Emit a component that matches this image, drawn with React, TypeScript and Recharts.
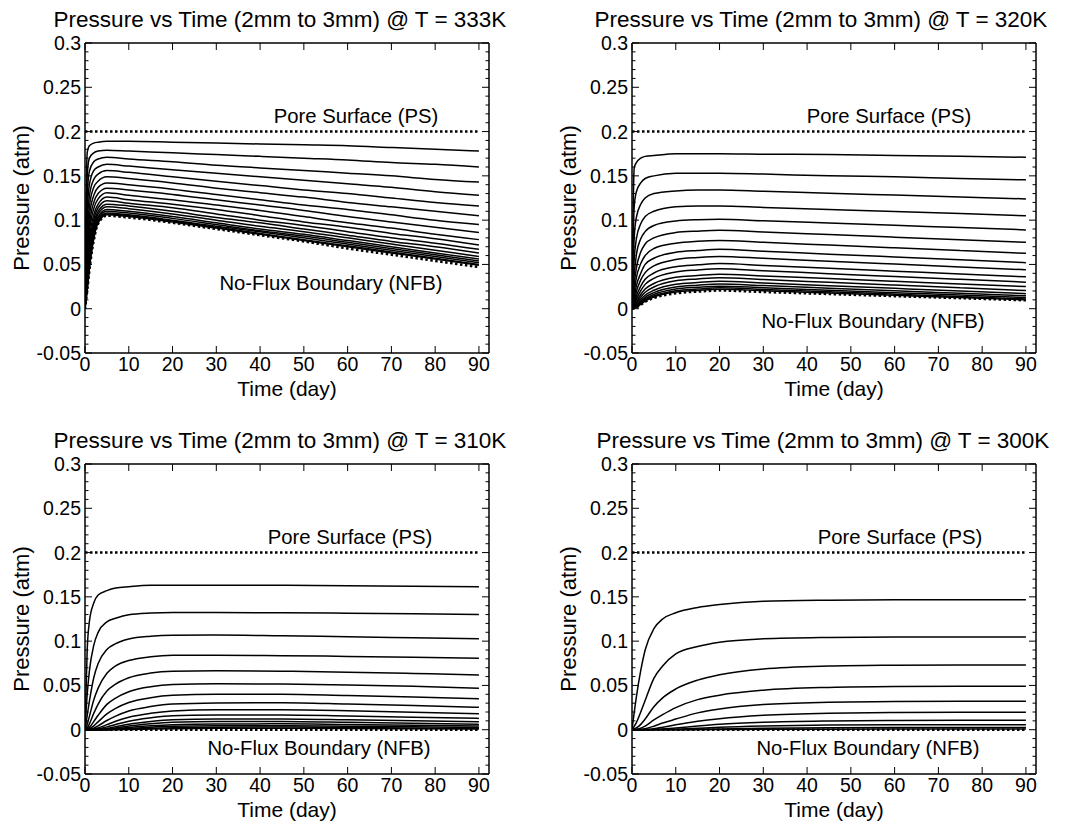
import React from 'react';
import { LineChart, Line, XAxis, YAxis } from 'recharts';

// sample days per panel
const t333 = [0, 0.5, 1, 2, 3, 5, 10, 20, 30, 40, 50, 60, 70, 80, 90];
const t320 = [0, 0.5, 1, 2, 3, 5, 10, 15, 20, 30, 45, 60, 75, 90];
const t310 = [0, 0.5, 1, 2, 3, 5, 7, 10, 15, 20, 30, 45, 60, 75, 90];
const t300 = [0, 1, 2, 3, 5, 7, 10, 15, 20, 30, 45, 60, 75, 90];

// pressure (atm) at each depth, top curve is nearest the pore surface
const p333 = [
  [0, 0.176, 0.184, 0.187, 0.188, 0.189, 0.189, 0.188, 0.187, 0.186, 0.185, 0.184, 0.182, 0.180, 0.178],
  [0, 0.150, 0.170, 0.176, 0.178, 0.179, 0.178, 0.176, 0.174, 0.172, 0.170, 0.168, 0.165, 0.163, 0.160],
  [0, 0.128, 0.155, 0.166, 0.169, 0.171, 0.169, 0.166, 0.162, 0.159, 0.156, 0.153, 0.150, 0.146, 0.143],
  [0, 0.110, 0.140, 0.156, 0.160, 0.163, 0.161, 0.157, 0.153, 0.149, 0.145, 0.141, 0.137, 0.132, 0.128],
  [0, 0.095, 0.127, 0.146, 0.152, 0.156, 0.154, 0.149, 0.144, 0.139, 0.134, 0.130, 0.125, 0.120, 0.116],
  [0, 0.082, 0.115, 0.137, 0.144, 0.149, 0.147, 0.142, 0.136, 0.131, 0.126, 0.120, 0.115, 0.110, 0.105],
  [0, 0.071, 0.104, 0.128, 0.137, 0.142, 0.140, 0.135, 0.129, 0.123, 0.117, 0.112, 0.106, 0.100, 0.095],
  [0, 0.062, 0.094, 0.120, 0.130, 0.136, 0.134, 0.129, 0.123, 0.117, 0.111, 0.104, 0.098, 0.092, 0.086],
  [0, 0.054, 0.086, 0.113, 0.124, 0.131, 0.128, 0.123, 0.117, 0.111, 0.104, 0.097, 0.091, 0.084, 0.078],
  [0, 0.047, 0.078, 0.106, 0.118, 0.126, 0.123, 0.118, 0.112, 0.105, 0.098, 0.092, 0.085, 0.079, 0.072],
  [0, 0.041, 0.072, 0.101, 0.114, 0.122, 0.119, 0.114, 0.107, 0.100, 0.094, 0.087, 0.080, 0.074, 0.067],
  [0, 0.036, 0.066, 0.096, 0.110, 0.118, 0.116, 0.110, 0.103, 0.097, 0.090, 0.083, 0.076, 0.070, 0.063],
  [0, 0.032, 0.061, 0.092, 0.107, 0.115, 0.113, 0.107, 0.100, 0.093, 0.087, 0.080, 0.073, 0.066, 0.059],
  [0, 0.029, 0.057, 0.089, 0.104, 0.112, 0.110, 0.104, 0.097, 0.090, 0.084, 0.077, 0.070, 0.063, 0.056],
  [0, 0.026, 0.053, 0.086, 0.102, 0.110, 0.108, 0.102, 0.095, 0.088, 0.082, 0.075, 0.068, 0.061, 0.054],
  [0, 0.024, 0.050, 0.083, 0.100, 0.108, 0.106, 0.100, 0.093, 0.087, 0.080, 0.073, 0.066, 0.059, 0.052],
  [0, 0.022, 0.047, 0.081, 0.098, 0.107, 0.105, 0.099, 0.092, 0.085, 0.078, 0.071, 0.064, 0.057, 0.050],
  [0, 0.021, 0.045, 0.079, 0.097, 0.106, 0.104, 0.098, 0.091, 0.084, 0.077, 0.070, 0.063, 0.056, 0.049],
];
const nfb333 = [0, 0.020, 0.043, 0.077, 0.096, 0.105, 0.103, 0.097, 0.090, 0.083, 0.076, 0.068, 0.061, 0.054, 0.047];

const p320 = [
  [0, 0.159, 0.165, 0.170, 0.172, 0.173, 0.175, 0.175, 0.175, 0.1745, 0.174, 0.173, 0.172, 0.171],
  [0, 0.115, 0.132, 0.142, 0.147, 0.150, 0.153, 0.153, 0.153, 0.152, 0.150, 0.149, 0.147, 0.1455],
  [0, 0.080, 0.103, 0.118, 0.125, 0.130, 0.133, 0.134, 0.134, 0.1326, 0.1304, 0.1283, 0.1261, 0.124],
  [0, 0.056, 0.079, 0.096, 0.104, 0.110, 0.115, 0.116, 0.116, 0.1144, 0.1121, 0.1097, 0.1074, 0.105],
  [0, 0.038, 0.061, 0.079, 0.087, 0.094, 0.099, 0.1005, 0.101, 0.0993, 0.0967, 0.0941, 0.0916, 0.089],
  [0, 0.027, 0.046, 0.064, 0.073, 0.080, 0.086, 0.0876, 0.0885, 0.0866, 0.0837, 0.0808, 0.0779, 0.075],
  [0, 0.0185, 0.035, 0.051, 0.060, 0.068, 0.074, 0.0762, 0.077, 0.0749, 0.0718, 0.0687, 0.0656, 0.0625],
  [0, 0.0127, 0.026, 0.040, 0.050, 0.057, 0.0637, 0.0657, 0.067, 0.0649, 0.0616, 0.0584, 0.0552, 0.052],
  [0, 0.0089, 0.0195, 0.0325, 0.0407, 0.0484, 0.0555, 0.0578, 0.059, 0.0569, 0.0536, 0.0504, 0.0472, 0.044],
  [0, 0.0061, 0.0143, 0.0255, 0.0332, 0.0403, 0.0474, 0.0495, 0.051, 0.0489, 0.0456, 0.0424, 0.0392, 0.036],
  [0, 0.0041, 0.0108, 0.0203, 0.0275, 0.0342, 0.0414, 0.0437, 0.045, 0.0429, 0.0396, 0.0364, 0.0332, 0.030],
  [0, 0.0027, 0.0078, 0.016, 0.0222, 0.0285, 0.0355, 0.0374, 0.039, 0.037, 0.034, 0.031, 0.028, 0.025],
  [0, 0.0021, 0.006, 0.013, 0.0186, 0.0245, 0.0315, 0.0336, 0.035, 0.0329, 0.0298, 0.0267, 0.0236, 0.0205],
  [0, 0.0016, 0.0043, 0.0102, 0.0152, 0.0208, 0.0276, 0.0295, 0.031, 0.029, 0.026, 0.023, 0.020, 0.017],
  [0, 0.0011, 0.0034, 0.0084, 0.0129, 0.0182, 0.0246, 0.0266, 0.028, 0.0261, 0.0232, 0.0203, 0.0174, 0.0145],
  [0, 0.0008, 0.0026, 0.0069, 0.011, 0.0161, 0.0222, 0.0242, 0.0255, 0.0237, 0.0209, 0.0181, 0.0154, 0.0126],
  [0, 0.0007, 0.0021, 0.0059, 0.0097, 0.0144, 0.0203, 0.0222, 0.0236, 0.0218, 0.0191, 0.0164, 0.0137, 0.011],
  [0, 0.0004, 0.0018, 0.0051, 0.0086, 0.0132, 0.0189, 0.0207, 0.022, 0.0203, 0.0177, 0.0151, 0.0126, 0.010],
];
const nfb320 = [0, 0.0004, 0.0014, 0.0045, 0.0078, 0.0121, 0.0174, 0.0193, 0.0205, 0.0189, 0.0166, 0.0142, 0.0119, 0.0095];

const p310 = [
  [0, 0.090, 0.122, 0.143, 0.152, 0.157, 0.160, 0.1615, 0.163, 0.163, 0.1632, 0.1631, 0.1625, 0.162, 0.1614],
  [0, 0.0397, 0.0662, 0.0953, 0.1099, 0.1218, 0.1258, 0.1298, 0.1317, 0.1324, 0.1324, 0.132, 0.1315, 0.1308, 0.130],
  [0, 0.016, 0.032, 0.0587, 0.0747, 0.0907, 0.0971, 0.1024, 0.1056, 0.1067, 0.1068, 0.106, 0.105, 0.1038, 0.1026],
  [0, 0.0059, 0.0151, 0.0336, 0.047, 0.0638, 0.0722, 0.0781, 0.0823, 0.084, 0.0842, 0.0836, 0.0828, 0.0818, 0.0807],
  [0, 0.002, 0.0066, 0.0185, 0.029, 0.0436, 0.0515, 0.0587, 0.064, 0.066, 0.0665, 0.066, 0.065, 0.0635, 0.0618],
  [0, 0.0008, 0.0026, 0.0092, 0.0163, 0.0286, 0.0357, 0.0428, 0.0485, 0.051, 0.0518, 0.0515, 0.0505, 0.049, 0.0468],
  [0, 0.0003, 0.001, 0.0043, 0.0089, 0.0178, 0.0241, 0.0307, 0.0361, 0.0388, 0.040, 0.040, 0.0385, 0.037, 0.0351],
  [0, 0.0001, 0.0003, 0.0017, 0.0044, 0.0104, 0.0154, 0.0212, 0.0261, 0.029, 0.0302, 0.0305, 0.029, 0.0272, 0.0253],
  [0, 0, 0.0001, 0.0006, 0.0019, 0.0057, 0.0095, 0.0141, 0.0185, 0.021, 0.0225, 0.0225, 0.0215, 0.0198, 0.0181],
  [0, 0, 0, 0.0002, 0.0008, 0.0032, 0.0058, 0.0096, 0.0134, 0.0158, 0.0165, 0.0167, 0.0155, 0.0142, 0.0128],
  [0, 0, 0, 0.0001, 0.0003, 0.0016, 0.0034, 0.0062, 0.0093, 0.0113, 0.0122, 0.0122, 0.0113, 0.0102, 0.009],
  [0, 0, 0, 0, 0.0001, 0.0007, 0.0019, 0.0041, 0.0066, 0.0083, 0.0092, 0.0092, 0.0083, 0.0072, 0.006],
  [0, 0, 0, 0, 0, 0.0003, 0.001, 0.0025, 0.0044, 0.0057, 0.0065, 0.0066, 0.0058, 0.005, 0.0041],
  [0, 0, 0, 0, 0, 0.0001, 0.0005, 0.0014, 0.0028, 0.0038, 0.0045, 0.0046, 0.004, 0.0033, 0.0026],
  [0, 0, 0, 0, 0, 0, 0.0002, 0.0007, 0.0016, 0.0023, 0.0029, 0.003, 0.0025, 0.002, 0.0015],
  [0, 0, 0, 0, 0, 0, 0.0001, 0.0003, 0.0007, 0.0011, 0.0016, 0.0017, 0.0014, 0.0011, 0.0008],
];
const nfb310 = [0, 0, 0, 0, 0, 0, 0, 0, 0, 0, 0, 0, 0, 0, 0];

const p300 = [
  [0, 0.037, 0.067, 0.090, 0.114, 0.125, 0.132, 0.138, 0.1414, 0.145, 0.1462, 0.1466, 0.1467, 0.1467],
  [0, 0.008, 0.020, 0.033, 0.058, 0.072, 0.0856, 0.094, 0.0988, 0.1026, 0.1042, 0.1047, 0.1048, 0.1048],
  [0, 0.002, 0.006, 0.012, 0.026, 0.036, 0.046, 0.056, 0.062, 0.0685, 0.0718, 0.0728, 0.0732, 0.0732],
  [0, 0.0005, 0.0016, 0.004, 0.011, 0.017, 0.025, 0.034, 0.039, 0.0446, 0.0478, 0.0488, 0.049, 0.049],
  [0, 0, 0.0003, 0.0011, 0.004, 0.0075, 0.012, 0.019, 0.0235, 0.0285, 0.031, 0.0318, 0.032, 0.032],
  [0, 0, 0, 0.0002, 0.0012, 0.0028, 0.0055, 0.0095, 0.0125, 0.0163, 0.0187, 0.0194, 0.0196, 0.0196],
  [0, 0, 0, 0, 0.0003, 0.0009, 0.002, 0.0042, 0.0061, 0.0084, 0.0099, 0.0104, 0.0106, 0.0106],
  [0, 0, 0, 0, 0, 0.0002, 0.0006, 0.0016, 0.0027, 0.0041, 0.0052, 0.0056, 0.0057, 0.0057],
  [0, 0, 0, 0, 0, 0, 0.0001, 0.0005, 0.0009, 0.0016, 0.0022, 0.0025, 0.0026, 0.0026],
  [0, 0, 0, 0, 0, 0, 0, 0.0001, 0.0002, 0.0004, 0.0006, 0.0007, 0.0008, 0.0008],
];
const nfb300 = [0, 0, 0, 0, 0, 0, 0, 0, 0, 0, 0, 0, 0, 0];

// pore surface boundary
const psDays = [0, 90];
const psValues = [0.2, 0.2];

const xTicks = [0, 10, 20, 30, 40, 50, 60, 70, 80, 90];
const yTicks = [-0.05, -0.04, -0.03, -0.02, -0.01, 0, 0.01, 0.02, 0.03, 0.04, 0.05, 0.06, 0.07, 0.08, 0.09, 0.1,
  0.11, 0.12, 0.13, 0.14, 0.15, 0.16, 0.17, 0.18, 0.19, 0.2, 0.21, 0.22, 0.23, 0.24, 0.25, 0.26, 0.27, 0.28, 0.29, 0.3];
const yMajor = [-0.05, 0, 0.05, 0.1, 0.15, 0.2, 0.25, 0.3];
const yMajorLabels = ['-0.05', '0', '0.05', '0.1', '0.15', '0.2', '0.25', '0.3'];

const FONT = '"Liberation Sans", Arial, Helvetica, sans-serif';
const PW = 404;
const PH = 310;
const TICK_FS = 19.5;

const majorIndex = (v: number) => yMajor.findIndex((m) => Math.abs(m - v) < 1e-6);

const BottomTick = ({ x, y, payload }: any) => (
  <g>
    <line x1={x} x2={x} y1={y} y2={y - 7} stroke="#000" strokeWidth={1} />
    <text x={x} y={y + 18} textAnchor="middle" fontSize={TICK_FS} fontFamily={FONT} fill="#000">
      {payload.value}
    </text>
  </g>
);

const TopTick = ({ x, y }: any) => <line x1={x} x2={x} y1={y} y2={y + 7} stroke="#000" strokeWidth={1} />;

const LeftTick = ({ x, y, payload }: any) => {
  const mi = majorIndex(payload.value);
  return (
    <g>
      <line x1={x} x2={x + (mi >= 0 ? 7 : 3.5)} y1={y} y2={y} stroke="#000" strokeWidth={1} />
      {mi >= 0 && (
        <text x={x - 4} y={y + 7} textAnchor="end" fontSize={TICK_FS} fontFamily={FONT} fill="#000">
          {yMajorLabels[mi]}
        </text>
      )}
    </g>
  );
};

const RightTick = ({ x, y, payload }: any) => {
  const mi = majorIndex(payload.value);
  return <line x1={x} x2={x - (mi >= 0 ? 7 : 3.5)} y1={y} y2={y} stroke="#000" strokeWidth={1} />;
};

const axisLine = { stroke: '#000', strokeWidth: 1.5 };

interface PanelProps {
  left: number;
  top: number;
  days: number[];
  curves: number[][];
  nfb: number[];
}

function Panel({ left, top, days, curves, nfb }: PanelProps) {
  const toData = (vals: number[], ts: number[]) => vals.map((v, i) => ({ t: ts[i], p: v }));
  return (
    <div style={{ position: 'absolute', left: left - 85, top: top - 43 }}>
      <LineChart width={504} height={413} margin={{ top: 38, right: 10, bottom: 10, left: 5 }}>
        <XAxis xAxisId="b" dataKey="t" type="number" domain={[0, 92.3]} ticks={xTicks} interval={0}
          orientation="bottom" height={50} tickSize={0} tickMargin={0} tickLine={false}
          axisLine={axisLine} tick={BottomTick} allowDataOverflow />
        <XAxis xAxisId="t" dataKey="t" type="number" domain={[0, 92.3]} ticks={xTicks} interval={0}
          orientation="top" height={5} tickSize={0} tickMargin={0} tickLine={false}
          axisLine={axisLine} tick={TopTick} allowDataOverflow />
        <YAxis yAxisId="l" type="number" domain={[-0.05, 0.3]} ticks={yTicks} interval={0}
          width={80} tickSize={0} tickMargin={0} tickLine={false}
          axisLine={axisLine} tick={LeftTick} allowDataOverflow />
        <YAxis yAxisId="r" orientation="right" type="number" domain={[-0.05, 0.3]} ticks={yTicks} interval={0}
          width={5} tickSize={0} tickMargin={0} tickLine={false}
          axisLine={axisLine} tick={RightTick} allowDataOverflow />
        {curves.map((c, k) => (
          <Line key={k} xAxisId="b" yAxisId="l" data={toData(c, days)} dataKey="p" type="monotone"
            stroke="#000" strokeWidth={1.5} dot={false} activeDot={false} isAnimationActive={false} />
        ))}
        <Line xAxisId="b" yAxisId="l" data={toData(nfb, days)} dataKey="p" type="monotone"
          stroke="#000" strokeWidth={2.5} strokeDasharray="2.5 2.5" dot={false} activeDot={false} isAnimationActive={false} />
        <Line xAxisId="t" yAxisId="r" data={toData(psValues, psDays)} dataKey="p" type="linear"
          stroke="#000" strokeWidth={2.5} strokeDasharray="2.5 2.5" dot={false} activeDot={false} isAnimationActive={false} />
      </LineChart>
    </div>
  );
}

const panels = [
  { left: 85, top: 43, days: t333, curves: p333, nfb: nfb333, title: 'Pressure vs Time (2mm to 3mm) @ T = 333K', tx: 280, psx: 356, nfx: 331, nfy: 290 },
  { left: 632, top: 43, days: t320, curves: p320, nfb: nfb320, title: 'Pressure vs Time (2mm to 3mm) @ T = 320K', tx: 821, psx: 889, nfx: 873, nfy: 328 },
  { left: 85, top: 464, days: t310, curves: p310, nfb: nfb310, title: 'Pressure vs Time (2mm to 3mm) @ T = 310K', tx: 280, psx: 350, nfx: 319, nfy: 755 },
  { left: 632, top: 464, days: t300, curves: p300, nfb: nfb300, title: 'Pressure vs Time (2mm to 3mm) @ T = 300K', tx: 823, psx: 900, nfx: 868, nfy: 755 },
];

export default function App() {
  return (
    <div style={{ position: 'relative', width: 1077, height: 825, background: '#fff', overflow: 'hidden' }}>
      <style>{'body{margin:0;}'}</style>
      {panels.map((p, i) => (
        <Panel key={i} left={p.left} top={p.top} days={p.days} curves={p.curves} nfb={p.nfb} />
      ))}
      <svg width={1077} height={825} style={{ position: 'absolute', left: 0, top: 0, pointerEvents: 'none' }}
        fontFamily={FONT} fill="#000">
        {panels.map((p, i) => (
          <g key={i}>
            <text x={p.tx} y={p.top - 16} textAnchor="middle" fontSize={22.5}>{p.title}</text>
            <text x={p.left + PW / 2} y={p.top + PH + 43} textAnchor="middle" fontSize={21}>Time (day)</text>
            <text transform={`translate(${p.left - 56}, ${p.top + PH / 2}) rotate(-90)`} textAnchor="middle" fontSize={22}>
              Pressure (atm)
            </text>
            <text x={p.psx} y={p.top + 80} textAnchor="middle" fontSize={20.3}>Pore Surface (PS)</text>
            <text x={p.nfx} y={p.nfy} textAnchor="middle" fontSize={20.3}>No-Flux Boundary (NFB)</text>
          </g>
        ))}
      </svg>
    </div>
  );
}
